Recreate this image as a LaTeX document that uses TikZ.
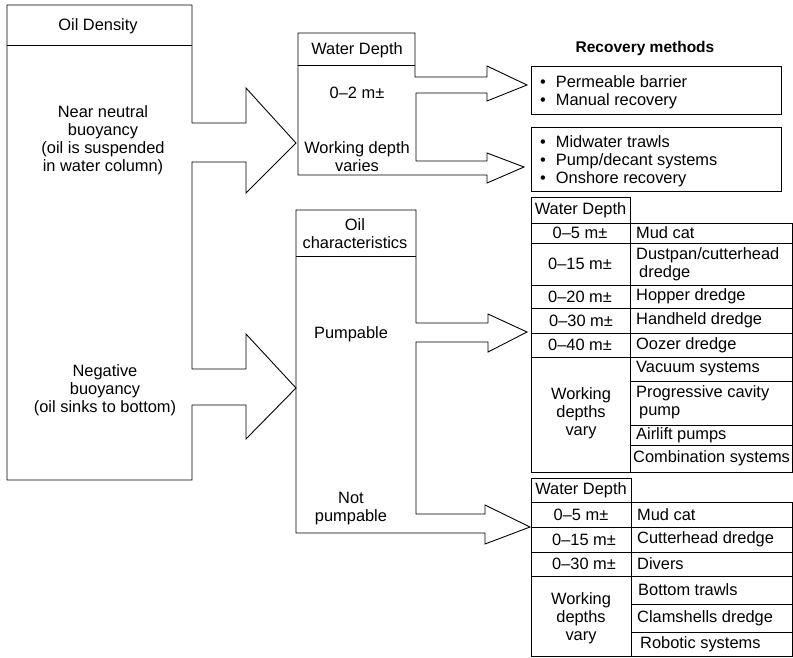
\documentclass[tikz,border=0pt]{standalone}
\usepackage{fontspec}
\setmainfont{Liberation Sans}
\usepackage{tikz}
\newcommand{\rbul}{\textbullet\hspace{10pt}}
\tikzset{
  outline/.style={draw=black, line width=0.9pt, line join=miter},
  rule/.style={draw=black, line width=0.9pt},
  labeltext/.style={align=center, inner sep=0pt},
  celltext/.style={anchor=west, align=left, inner sep=0pt},
  listtext/.style={anchor=west, align=left, inner sep=0pt},
  titletext/.style={inner sep=0pt, font=\fontsize{15.5}{17}\selectfont\bfseries}
}

\begin{document}
\begin{tikzpicture}[x=1pt, y=-1pt, every node/.style={font=\fontsize{16.4}{18}\selectfont}]
  \useasboundingbox (0,0) rectangle (793,657);

  % oil density panel with its two block arrows
  \draw[outline] (7,5) -- (192,5) -- (192,123) -- (246,123) -- (246,88) -- (296,143)
    -- (246,193) -- (246,162) -- (192,162) -- (192,369) -- (246,369) -- (246,334)
    -- (296,388) -- (246,439) -- (246,405) -- (192,405) -- (192,480) -- (7,480) -- cycle;
  \draw[rule] (7,45) -- (192,45);
  \node[labeltext] (density) at (98,26) {Oil Density};
  \node[labeltext] (neutral) at (103,140) {Near neutral\\buoyancy\\(oil is suspended\\in water column)};
  \node[labeltext] (negative) at (105,390) {Negative\\buoyancy\\(oil sinks to bottom)};

  % water depth panel
  \draw[outline] (298,33) -- (415,33) -- (415,77) -- (487,77) -- (487,66) -- (527,85)
    -- (487,101) -- (487,93) -- (416,93) -- (416,161) -- (487,161) -- (487,153)
    -- (524,167) -- (487,183) -- (487,175) -- (298,175) -- cycle;
  \draw[rule] (298,65) -- (415,65);
  \node[labeltext] (depthhead) at (357,50) {Water Depth};
  \node[labeltext] (shallow) at (357,93) {0–2 m±};
  \node[labeltext] (varies) at (357,157) {Working depth\\varies};

  % oil characteristics panel
  \draw[outline] (296,210) -- (416,210) -- (416,323) -- (488,323) -- (488,314) -- (527,332)
    -- (488,352) -- (488,342) -- (416,342) -- (416,514) -- (485,514) -- (485,505)
    -- (530,527) -- (485,544) -- (485,533) -- (296,533) -- cycle;
  \draw[rule] (296,256) -- (416,256);
  \node[labeltext] (charhead) at (355,234) {Oil\\characteristics};
  \node[labeltext] (pump) at (351,334) {Pumpable};
  \node[labeltext] (nopump) at (351,509) {Not\\pumpable};

  % recovery methods
  \node[titletext] (rtitle) at (645,48) {Recovery methods};
  \draw[rule] (531,66) rectangle (781,114);
  \node[listtext] (rlistA) at (540,92) {\rbul Permeable barrier\\\rbul Manual recovery};
  \draw[rule] (531,127) rectangle (781,191);
  \node[listtext] (rlistB) at (540,161) {\rbul Midwater trawls\\\rbul Pump/decant systems\\\rbul Onshore recovery};

  % table for pumpable oil
  \draw[rule] (531,197) rectangle (630,223);
  \draw[rule] (531,223) rectangle (792,472);
  \draw[rule] (630,223) -- (630,472);
  \draw[rule] (531,243) -- (792,243);
  \draw[rule] (531,285) -- (792,285);
  \draw[rule] (531,308) -- (792,308);
  \draw[rule] (531,333) -- (792,333);
  \draw[rule] (531,357) -- (792,357);
  \draw[rule] (630,381) -- (792,381);
  \draw[rule] (630,425) -- (792,425);
  \draw[rule] (630,445) -- (792,445);
  \node[labeltext] (phead) at (580.5,210) {Water Depth};
  \node[labeltext] (pd5) at (580,233) {0–5 m±};
  \node[labeltext] (pd15) at (580,264) {0–15 m±};
  \node[labeltext] (pd20) at (580,296.5) {0–20 m±};
  \node[labeltext] (pd30) at (581,320.5) {0–30 m±};
  \node[labeltext] (pd40) at (580,345) {0–40 m±};
  \node[labeltext] (pdvar) at (581,413) {Working\\depths\\vary};
  \node[celltext] (pm5) at (636,233) {Mud cat};
  \node[celltext] (pm15) at (636,264) {Dustpan/cutterhead\\\hspace*{3pt}dredge};
  \node[celltext] (pm20) at (636,296.5) {Hopper dredge};
  \node[celltext] (pm30) at (636,320.5) {Handheld dredge};
  \node[celltext] (pm40) at (636,345) {Oozer dredge};
  \node[celltext] (pmvac) at (636,369) {Vacuum systems};
  \node[celltext] (pmprog) at (636,402) {Progressive cavity\\\hspace*{3pt}pump};
  \node[celltext] (pmair) at (636,435) {Airlift pumps};
  \node[celltext] (pmcomb) at (633,458.5) {Combination systems};

  % table for oil that is not pumpable
  \draw[rule] (531,478) rectangle (631,502);
  \draw[rule] (531,502) rectangle (792,656);
  \draw[rule] (631,502) -- (631,656);
  \draw[rule] (531,527) -- (792,527);
  \draw[rule] (531,552) -- (792,552);
  \draw[rule] (531,576) -- (792,576);
  \draw[rule] (631,604) -- (792,604);
  \draw[rule] (631,632) -- (792,632);
  \node[labeltext] (nhead) at (581,490) {Water Depth};
  \node[labeltext] (nd5) at (581,514.5) {0–5 m±};
  \node[labeltext] (nd15) at (584,539.5) {0–15 m±};
  \node[labeltext] (nd30) at (584,564) {0–30 m±};
  \node[labeltext] (ndvar) at (581,618) {Working\\depths\\vary};
  \node[celltext] (nm5) at (637,514.5) {Mud cat};
  \node[celltext] (nm15) at (637,539.5) {Cutterhead dredge};
  \node[celltext] (nm30) at (637,564) {Divers};
  \node[celltext] (nmbot) at (638,590) {Bottom trawls};
  \node[celltext] (nmclam) at (637,618) {Clamshells dredge};
  \node[celltext] (nmrob) at (640,644) {Robotic systems};
\end{tikzpicture}
\end{document}
